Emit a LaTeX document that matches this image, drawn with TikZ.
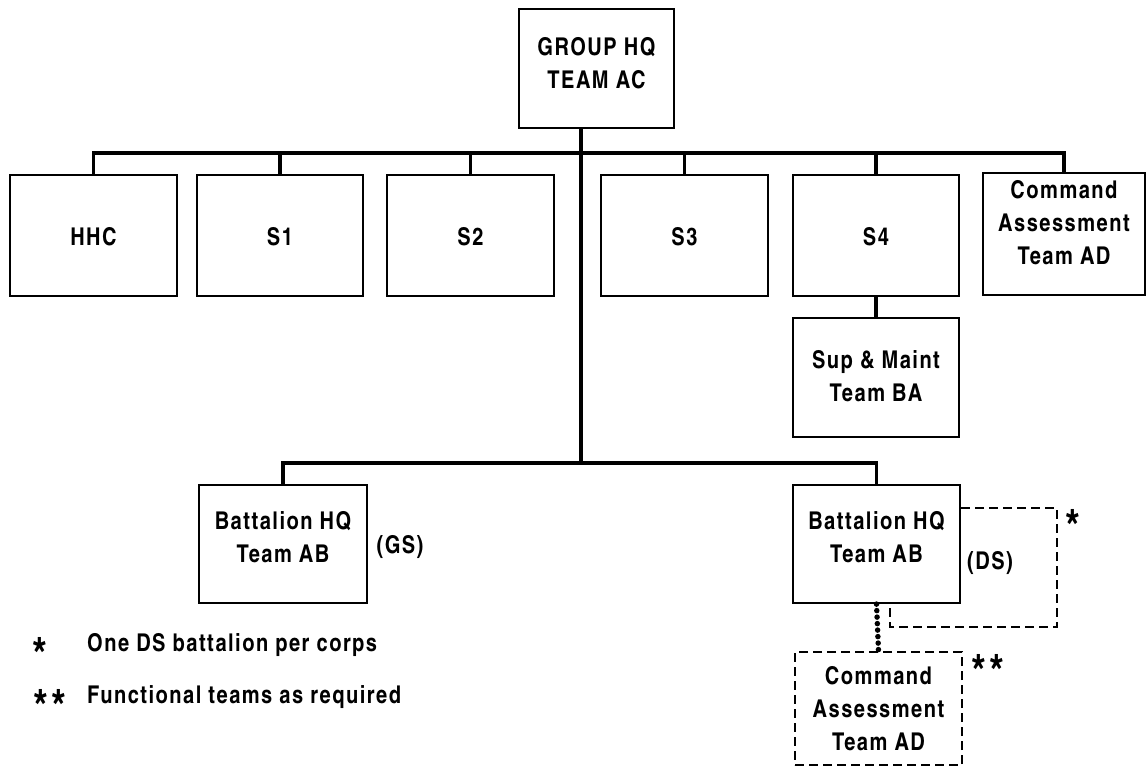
\documentclass[tikz,border=0pt]{standalone}
\usepackage{fontspec}
\setmainfont{TeX Gyre Heros Cn}[LetterSpace=6]
\begin{document}
\begin{tikzpicture}[x=1pt,y=1pt,
  box/.style={draw, line width=2.2pt, inner sep=0pt},
  dbox/.style={box, dash pattern=on 9pt off 5pt},
  txt/.style={align=center, inner sep=0pt, font=\bfseries\fontsize{24.5}{33}\selectfont},
  conn/.style={line width=3.8pt},
  dashln/.style={line width=2.4pt, dash pattern=on 9pt off 5pt},
  dotln/.style={line width=5.5pt, line cap=round, dash pattern=on 0pt off 6.5pt},
  lbl/.style={inner sep=0pt, font=\bfseries\fontsize{24.5}{28}\selectfont},
  star/.style={inner sep=0pt, font=\bfseries\fontsize{46}{46}\selectfont},
]
\useasboundingbox (0,0) rectangle (1147,-772);
\node[box, minimum width=155, minimum height=119] (top) at (596.5,-68.5) {};
\node[txt] (topt) at ([yshift=5]top.center) {GROUP HQ\\TEAM AC};
\node[box, minimum width=167, minimum height=121] (hhc) at (93.5,-235.5) {};
\node[txt] (hhct) at ([yshift=-1]hhc.center) {HHC};
\node[box, minimum width=166, minimum height=121] (s1) at (280,-235.5) {};
\node[txt] (s1t) at ([yshift=-1]s1.center) {S1};
\node[box, minimum width=167, minimum height=121] (s2) at (470.5,-235.5) {};
\node[txt] (s2t) at ([yshift=-1]s2.center) {S2};
\node[box, minimum width=167, minimum height=121] (s3) at (684.5,-235.5) {};
\node[txt] (s3t) at ([yshift=-1]s3.center) {S3};
\node[box, minimum width=166, minimum height=121] (s4) at (876,-235.5) {};
\node[txt] (s4t) at ([yshift=-1]s4.center) {S4};
\node[box, minimum width=162, minimum height=122] (cat) at (1064,-234) {};
\node[txt] (catt) at ([yshift=11]cat.center) {Command\\Assessment\\Team AD};
\node[box, minimum width=166, minimum height=119] (sup) at (876,-377.5) {};
\node[txt] (supt) at ([yshift=1]sup.center) {Sup \& Maint\\Team BA};
\node[box, minimum width=168, minimum height=118] (bnl) at (283,-544) {};
\node[txt] (bnlt) at ([yshift=6.5]bnl.center) {Battalion HQ\\Team AB};
\node[box, minimum width=167, minimum height=118] (bnr) at (876.5,-544) {};
\node[txt] (bnrt) at ([yshift=6.5]bnr.center) {Battalion HQ\\Team AB};
\node[dbox, minimum width=167, minimum height=113] (cat2) at (878.5,-708.5) {};
\node[txt] (cat2t) at (cat2.center) {Command\\Assessment\\Team AD};

\node[lbl] (gs) at (400,-547) {(GS)};
\node[lbl] (ds) at (990,-563) {(DS)};
\node[star] (st1) at (1073,-526) {*};
\node[star] (st2) at (988,-671) {**};
\node[star] (l1s) at (40,-654) {*};
\node[lbl, anchor=west] (l1) at (87,-645) {One DS battalion per corps};
\node[star] (l2s) at (50,-706) {**};
\node[lbl, anchor=west] (l2) at (87,-697) {Functional teams as required};

\coordinate (bar) at (0,-153);
\coordinate (bbar) at (0,-463);
\coordinate (trunk) at (581,0);
\draw[conn] (hhc.north) -- (hhc.north |- bar) -- (cat.north |- bar) -- (cat.north);
\draw[conn] (s1.north) -- (s1.north |- bar);
\draw[conn] (s2.north) -- (s2.north |- bar);
\draw[conn] (s3.north) -- (s3.north |- bar);
\draw[conn] (s4.north) -- (s4.north |- bar);
\draw[conn] (top.south -| trunk) -- (trunk |- bbar);
\draw[conn] (bnl.north) -- (bnl.north |- bbar) -- (bnr.north |- bbar) -- (bnr.north);
\draw[conn] (s4.south) -- (sup.north);
\coordinate (dsa) at (1057,-627);
\draw[dashln] ([yshift=36pt]bnr.east) -| (dsa) -| ([xshift=13.5pt]bnr.south);
\draw[dotln] (bnr.south) -- (cat2.north);
\end{tikzpicture}
\end{document}
